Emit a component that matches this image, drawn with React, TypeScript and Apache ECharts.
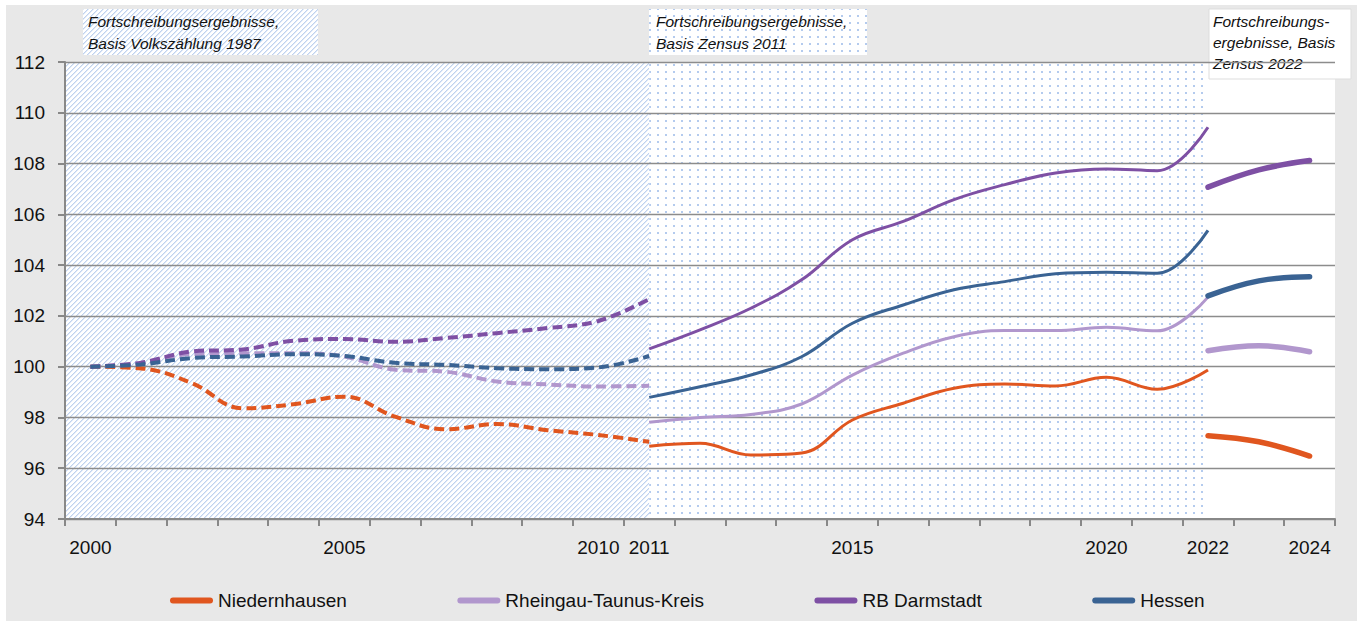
import React, { useEffect, useRef } from 'react';
import * as echarts from 'echarts';

const years = ['2000','2001','2002','2003','2004','2005','2006','2007','2008','2009','2010','2011','2012','2013','2014','2015','2016','2017','2018','2019','2020','2021','2022','2023','2024'];
const labeledYears = ['2000','2005','2010','2011','2015','2020','2022','2024'];
const yTicks = { min: 94, max: 112, interval: 2 };

// Basis Volkszählung 1987 (2000-2011)
const niedernhausen87 = [100, 99.93, 99.35, 98.36, 98.52, 98.82, 98.03, 97.53, 97.74, 97.5, 97.31, 97.04];
const rtk87 = [100, 100.13, 100.5, 100.53, 100.53, 100.4, 99.88, 99.8, 99.42, 99.3, 99.22, 99.25];
const darmstadt87 = [100, 100.16, 100.6, 100.68, 101.02, 101.09, 100.98, 101.13, 101.32, 101.52, 101.8, 102.66];
const hessen87 = [100, 100.09, 100.34, 100.4, 100.49, 100.42, 100.15, 100.07, 99.94, 99.9, 99.97, 100.42];

// Basis Zensus 2011 (2011-2022)
const niedernhausen11 = [96.87, 96.98, 96.52, 96.6, 97.9, 98.56, 99.15, 99.32, 99.24, 99.58, 99.11, 99.87];
const rtk11 = [97.81, 98.0, 98.12, 98.53, 99.67, 100.53, 101.18, 101.42, 101.42, 101.55, 101.41, 102.74];
const darmstadt11 = [100.7, 101.45, 102.3, 103.42, 105.0, 105.72, 106.58, 107.17, 107.63, 107.79, 107.72, 109.43];
const hessen11 = [98.79, 99.21, 99.67, 100.39, 101.71, 102.43, 103.03, 103.35, 103.66, 103.72, 103.68, 105.37];

// Basis Zensus 2022 (2022-2024)
const niedernhausen22 = [97.28, 97.04, 96.48];
const rtk22 = [100.63, 100.82, 100.59];
const darmstadt22 = [107.07, 107.75, 108.12];
const hessen22 = [102.79, 103.38, 103.54];

const names = ['Niedernhausen', 'Rheingau-Taunus-Kreis', 'RB Darmstadt', 'Hessen'];
const colors = ['#e0561f', '#b197cd', '#7e50a4', '#3a6393'];
const values87 = [niedernhausen87, rtk87, darmstadt87, hessen87];
const values11 = [niedernhausen11, rtk11, darmstadt11, hessen11];
const values22 = [niedernhausen22, rtk22, darmstadt22, hessen22];

const FONT = '"Liberation Sans", Arial, Helvetica, sans-serif';

function pad(values: number[], startIndex: number) {
  const out: (number | null)[] = [];
  for (let i = 0; i < startIndex; i++) out.push(null);
  return out.concat(values);
}

function makeHatch() {
  const n = 5;
  const c = document.createElement('canvas');
  c.width = n; c.height = n;
  const ctx = c.getContext('2d')!;
  ctx.fillStyle = '#ffffff';
  ctx.fillRect(0, 0, n, n);
  for (let x = 0; x < n; x++) {
    for (let y = 0; y < n; y++) {
      const d = (x + y) % n;
      if (d === 0) { ctx.fillStyle = '#bfd2ef'; ctx.fillRect(x, y, 1, 1); }
      else if (d === 1) { ctx.fillStyle = '#e0e9f7'; ctx.fillRect(x, y, 1, 1); }
    }
  }
  return { image: c, repeat: 'repeat', imageWidth: n, imageHeight: n };
}

function makeDots() {
  const w = 8, h = 7;
  const c = document.createElement('canvas');
  c.width = w; c.height = h;
  const ctx = c.getContext('2d')!;
  ctx.fillStyle = '#ffffff';
  ctx.fillRect(0, 0, w, h);
  ctx.fillStyle = '#b4cbee';
  ctx.fillRect(3, 3, 2, 2);
  return { image: c, repeat: 'repeat', imageWidth: w, imageHeight: h };
}

export default function App() {
  const ref = useRef<HTMLDivElement>(null);
  useEffect(() => {
    if (!ref.current) return;
    const chart = echarts.init(ref.current, null, { renderer: 'svg' });
    const hatch = makeHatch();
    const dots = makeDots();

    const series: any[] = [];
    series.push({
      name: '__bg',
      type: 'line',
      xAxisIndex: 1,
      yAxisIndex: 0,
      data: [],
      silent: true,
      markArea: {
        silent: true,
        data: [
          [{ xAxis: -0.5, yAxis: yTicks.min, itemStyle: { color: hatch } }, { xAxis: 11, yAxis: yTicks.max }],
          [{ xAxis: 11, yAxis: yTicks.min, itemStyle: { color: dots } }, { xAxis: 22, yAxis: yTicks.max }],
        ],
      },
      z: 1,
    });
    names.forEach((name, k) => {
      const base = {
        name,
        type: 'line',
        xAxisIndex: 0,
        smooth: 0.4,
        symbol: 'none',
        itemStyle: { color: colors[k] },
        z: 3 + k,
      };
      series.push({ ...base, data: pad(values87[k], 0), lineStyle: { color: colors[k], width: 4, type: [10, 5] } });
      series.push({ ...base, data: pad(values11[k], 11), lineStyle: { color: colors[k], width: 3 } });
      series.push({ ...base, data: pad(values22[k], 22), lineStyle: { color: colors[k], width: 5.5, cap: 'round' } });
    });

    const textStyleCommon = {
      fontFamily: FONT,
      fontSize: 15.5,
      fontStyle: 'italic',
      fill: '#111',
      verticalAlign: 'top',
    };

    chart.setOption({
      animation: false,
      backgroundColor: '#e8e8e8',
      grid: { left: 59, right: 22, top: 57, height: 457, show: true, backgroundColor: '#ffffff', borderWidth: 0 },
      xAxis: [
        {
          type: 'category',
          data: years,
          boundaryGap: true,
          z: 2,
          axisLine: { show: true, onZero: false, lineStyle: { color: '#888888', width: 2 } },
          axisTick: { show: true, interval: 0, length: 7, lineStyle: { color: '#888888', width: 2 } },
          axisLabel: {
            interval: 0,
            margin: 19,
            fontSize: 19,
            fontFamily: FONT,
            color: '#111',
            formatter: (v: string) => (labeledYears.includes(v) ? v : ''),
          },
          splitLine: { show: false },
        },
        { type: 'value', min: -0.5, max: 24.5, show: false },
      ],
      yAxis: {
        type: 'value',
        min: yTicks.min,
        max: yTicks.max,
        interval: yTicks.interval,
        z: 2,
        axisLine: { show: true, onZero: false, lineStyle: { color: '#888888', width: 2 } },
        axisTick: { show: true, length: 7, lineStyle: { color: '#888888', width: 2 } },
        axisLabel: { margin: 20, fontSize: 19, fontFamily: FONT, color: '#111' },
        splitLine: { show: true, lineStyle: { color: '#8c8c8c', width: 1.3 } },
      },
      legend: {
        left: 159,
        top: 581,
        itemWidth: 43,
        itemHeight: 6,
        itemGap: 110.5,
        selectedMode: false,
        icon: 'path://M3,0L40,0A3,3,0,0,1,40,6L3,6A3,3,0,0,1,3,0Z',
        textStyle: { fontSize: 19, fontFamily: FONT, color: '#111' },
        data: names.map((n, k) => ({ name: n, itemStyle: { color: colors[k], borderWidth: 0 } })),
      },
      graphic: [
        { type: 'rect', silent: true, shape: { x: 77, y: 4, width: 235, height: 46 }, style: { fill: hatch } },
        { type: 'text', silent: true, x: 82, y: 6, style: { ...textStyleCommon, text: 'Fortschreibungsergebnisse,\nBasis Volkszählung 1987', lineHeight: 21.5 } },
        { type: 'rect', silent: true, shape: { x: 643, y: 4, width: 218, height: 46 }, style: { fill: dots } },
        { type: 'text', silent: true, x: 650, y: 6, style: { ...textStyleCommon, text: 'Fortschreibungsergebnisse,\nBasis Zensus 2011', lineHeight: 21.5 } },
        { type: 'rect', silent: true, shape: { x: 1203, y: 4, width: 142, height: 70 }, style: { fill: '#ffffff', stroke: '#dddddd', lineWidth: 1 } },
        { type: 'text', silent: true, x: 1207, y: 5.5, style: { ...textStyleCommon, text: 'Fortschreibungs-\nergebnisse, Basis\nZensus 2022', lineHeight: 21 } },
      ],
      series,
    });
    return () => chart.dispose();
  }, []);

  return (
    <div
      ref={ref}
      style={{ position: 'fixed', left: 6, top: 5, width: 1351, height: 616 }}
    />
  );
}
